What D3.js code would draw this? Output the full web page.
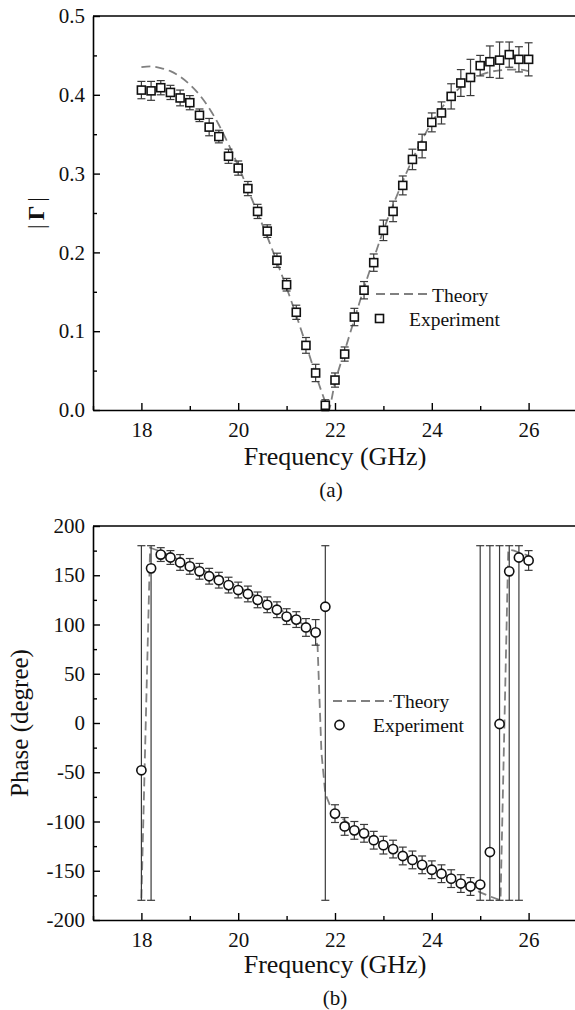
<!DOCTYPE html>
<html>
<head>
<meta charset="utf-8">
<script src="https://cdn.jsdelivr.net/npm/d3@7"></script>
<style>
body { margin: 0; background: #fff; }
</style>
</head>
<body>
<svg id="chart" width="575" height="1010"></svg>
<script>
var freq = [18.0, 18.2, 18.4, 18.6, 18.8, 19.0, 19.2, 19.4, 19.6, 19.8,
            20.0, 20.2, 20.4, 20.6, 20.8, 21.0, 21.2, 21.4, 21.6, 21.8,
            22.0, 22.2, 22.4, 22.6, 22.8, 23.0, 23.2, 23.4, 23.6, 23.8,
            24.0, 24.2, 24.4, 24.6, 24.8, 25.0, 25.2, 25.4, 25.6, 25.8, 26.0];

var gammaExp = [0.406, 0.405, 0.409, 0.403, 0.396, 0.390, 0.374, 0.359, 0.347, 0.322,
                0.307, 0.281, 0.252, 0.227, 0.190, 0.159, 0.124, 0.082, 0.047, 0.006,
                0.038, 0.071, 0.118, 0.152, 0.187, 0.228, 0.252, 0.285, 0.318, 0.335,
                0.365, 0.377, 0.398, 0.415, 0.422, 0.437, 0.442, 0.444, 0.451, 0.445, 0.445];
var gammaErr = [0.011, 0.012, 0.009, 0.009, 0.010, 0.009, 0.008, 0.011, 0.008, 0.009,
                0.009, 0.009, 0.009, 0.008, 0.009, 0.008, 0.009, 0.010, 0.011, 0.007,
                0.009, 0.009, 0.011, 0.011, 0.011, 0.013, 0.013, 0.012, 0.013, 0.015,
                0.012, 0.014, 0.016, 0.017, 0.023, 0.013, 0.020, 0.023, 0.016, 0.016, 0.021];

var theoryFreqA = [18.0, 18.2, 18.4, 18.6, 18.8, 19.0, 19.2, 19.4, 19.6, 19.8,
                   20.0, 20.2, 20.4, 20.6, 20.8, 21.0, 21.2, 21.4, 21.6, 21.8, 21.86,
                   22.0, 22.2, 22.4, 22.6, 22.8, 23.0, 23.2, 23.4, 23.6, 23.8,
                   24.0, 24.2, 24.4, 24.6, 24.8, 25.0, 25.2, 25.4, 25.6, 25.8, 26.0];
var theoryGamma = [0.435, 0.436, 0.434, 0.430, 0.423, 0.413, 0.400, 0.383, 0.362, 0.337,
                   0.310, 0.280, 0.250, 0.220, 0.188, 0.155, 0.120, 0.083, 0.045, 0.010, 0.0,
                   0.035, 0.075, 0.115, 0.155, 0.192, 0.228, 0.260, 0.290, 0.318, 0.343,
                   0.365, 0.383, 0.398, 0.410, 0.419, 0.425, 0.429, 0.431, 0.432, 0.432, 0.430];

var phaseExp = [-48, 157, 171, 168, 163, 159, 154, 149, 145, 140,
                135, 131, 125, 120, 115, 108, 105, 97, 92, 118,
                -92, -105, -109, -112, -119, -124, -128, -135, -139, -144,
                -149, -153, -158, -163, -166, -164, -131, -1, 154, 168, 165];
// null: the error bar covers the whole -180..180 range
var phaseErr = [null, null, 7, 7, 8, 8, 8, 8, 8, 8,
                8, 8, 8, 8, 8, 8, 8, 9, 13, null,
                9, 9, 9, 9, 9, 9, 9, 9, 9, 9,
                9, 9, 9, 9, 9, null, null, null, null, null, 10];

var theoryFreqB = [18.0, 18.18, 18.4, 18.6, 18.8, 19.0, 19.2, 19.4, 19.6, 19.8,
                   20.0, 20.2, 20.4, 20.6, 20.8, 21.0, 21.2, 21.4, 21.6, 21.64,
                   21.72, 21.8, 21.9, 22.0, 22.2, 22.4, 22.6, 22.8, 23.0, 23.2,
                   23.4, 23.6, 23.8, 24.0, 24.2, 24.4, 24.6, 24.8, 25.0, 25.2,
                   25.42, 25.58, 25.7, 25.8, 26.0];
var theoryPhase = [-178, 178, 174, 170, 165, 161, 157, 152, 147, 143,
                   138, 133, 128, 123, 117, 111, 105, 98, 86, 78,
                   -30, -72, -84, -90, -99, -106, -112, -118, -123, -128,
                   -133, -138, -143, -148, -153, -158, -163, -167, -172, -176,
                   -180, 176, 175, 173, 170];

var freqTicks = [18, 20, 22, 24, 26];
var freqMinor = [17, 19, 21, 23, 25, 27];
var gammaTicks = [0, 0.1, 0.2, 0.3, 0.4, 0.5];
var gammaMinor = [0.05, 0.15, 0.25, 0.35, 0.45];
var phaseTicks = [-200, -150, -100, -50, 0, 50, 100, 150, 200];
var phaseMinor = [-175, -125, -75, -25, 25, 75, 125, 175];

var svg = d3.select("#chart");
var serif = "'Liberation Serif', 'DejaVu Serif', serif";
var lineColor = "#808080";
var barColor = "#3a3a3a";

function label(g, x, y, size, txt) {
  return g.append("text").attr("x", x).attr("y", y)
    .style("font-family", serif).style("font-size", size + "px").attr("fill", "#111").text(txt);
}

function drawAxes(g, x, y, yTicks, yMinor, yFormat, top, bottom) {
  g.append("g").attr("transform", "translate(0," + bottom + ")")
    .call(d3.axisBottom(x).tickValues(freqTicks).tickSize(-7).tickSizeOuter(0).tickPadding(12)
      .tickFormat(function(d) { return String(d); }));
  g.append("g").attr("transform", "translate(0," + bottom + ")")
    .call(d3.axisBottom(x).tickValues(freqMinor).tickSize(-4).tickSizeOuter(0).tickFormat(""))
    .select(".domain").remove();
  g.append("g").attr("transform", "translate(" + x.range()[0] + ",0)")
    .call(d3.axisLeft(y).tickValues(yTicks).tickSize(-7).tickSizeOuter(0).tickPadding(8).tickFormat(yFormat));
  g.append("g").attr("transform", "translate(" + x.range()[0] + ",0)")
    .call(d3.axisLeft(y).tickValues(yMinor).tickSize(-4).tickSizeOuter(0).tickFormat(""))
    .select(".domain").remove();
  g.append("line")
    .attr("x1", x.range()[0]).attr("x2", x.range()[1])
    .attr("y1", top).attr("y2", top)
    .attr("stroke", "#000").attr("stroke-width", 1.6);
  g.selectAll(".domain").attr("stroke-width", 1.6);
  g.selectAll(".tick line").attr("stroke-width", 1.4);
  g.selectAll(".tick text").style("font-family", serif).style("font-size", "21px").attr("fill", "#111");
}

function errorBars(g, x, y, f, lo, hi) {
  var bars = g.append("g").attr("stroke", barColor).attr("stroke-width", 1.2);
  f.forEach(function(d, i) {
    var cx = x(d);
    bars.append("line").attr("x1", cx).attr("x2", cx).attr("y1", y(lo[i])).attr("y2", y(hi[i]));
    bars.append("line").attr("x1", cx - 4).attr("x2", cx + 4).attr("y1", y(lo[i])).attr("y2", y(lo[i]));
    bars.append("line").attr("x1", cx - 4).attr("x2", cx + 4).attr("y1", y(hi[i])).attr("y2", y(hi[i]));
  });
}

// (a) magnitude
var xA = d3.scaleLinear().domain([17, 27]).range([93, 577]);
var yA = d3.scaleLinear().domain([0, 0.5]).range([410, 16]);
var gA = svg.append("g");

gA.append("path")
  .datum(theoryFreqA.map(function(f, i) { return [f, theoryGamma[i]]; }))
  .attr("fill", "none").attr("stroke", lineColor).attr("stroke-width", 1.8)
  .attr("stroke-dasharray", "9,5")
  .attr("d", d3.line().x(function(d) { return xA(d[0]); }).y(function(d) { return yA(d[1]); }).curve(d3.curveMonotoneX));

errorBars(gA, xA, yA, freq,
  gammaExp.map(function(v, i) { return v - gammaErr[i]; }),
  gammaExp.map(function(v, i) { return v + gammaErr[i]; }));

gA.selectAll("rect.pt").data(freq).enter().append("rect")
  .attr("class", "pt")
  .attr("x", function(d) { return xA(d) - 4; })
  .attr("y", function(d, i) { return yA(gammaExp[i]) - 4; })
  .attr("width", 8).attr("height", 8)
  .attr("fill", "#fff").attr("stroke", "#111").attr("stroke-width", 1.6);

drawAxes(gA, xA, yA, gammaTicks, gammaMinor, d3.format(".1f"), 16, 410);

label(gA, 335, 465, 26, "Frequency (GHz)").attr("text-anchor", "middle");
label(gA, 331, 497, 21, "(a)").attr("text-anchor", "middle");
var gl = label(gA, 0, 0, 23, null).attr("transform", "translate(44,213) rotate(-90)")
  .attr("text-anchor", "middle");
gl.append("tspan").text("|");
gl.append("tspan").attr("dx", 4).style("font-weight", "bold").text("Γ");
gl.append("tspan").attr("dx", 4).text("|");

gA.append("line").attr("x1", 376).attr("x2", 430).attr("y1", 294).attr("y2", 294)
  .attr("stroke", lineColor).attr("stroke-width", 1.8).attr("stroke-dasharray", "9,5");
label(gA, 432, 301.5, 19.5, "Theory");
gA.append("rect").attr("x", 375.5).attr("y", 314.5).attr("width", 8).attr("height", 8)
  .attr("fill", "#fff").attr("stroke", "#111").attr("stroke-width", 1.6);
label(gA, 409, 326, 19.5, "Experiment");

// (b) phase
var xB = d3.scaleLinear().domain([17, 27]).range([93, 577]);
var yB = d3.scaleLinear().domain([-200, 200]).range([920, 526]);
var gB = svg.append("g");

gB.append("path")
  .datum(theoryFreqB.map(function(f, i) { return [f, theoryPhase[i]]; }))
  .attr("fill", "none").attr("stroke", lineColor).attr("stroke-width", 1.8)
  .attr("stroke-dasharray", "9,5")
  .attr("d", d3.line().x(function(d) { return xB(d[0]); }).y(function(d) { return yB(d[1]); }));

errorBars(gB, xB, yB, freq,
  phaseExp.map(function(v, i) { return phaseErr[i] === null ? -180 : v - phaseErr[i]; }),
  phaseExp.map(function(v, i) { return phaseErr[i] === null ? 180 : v + phaseErr[i]; }));

gB.selectAll("circle.pt").data(freq).enter().append("circle")
  .attr("class", "pt")
  .attr("cx", function(d) { return xB(d); })
  .attr("cy", function(d, i) { return yB(phaseExp[i]); })
  .attr("r", 4.6)
  .attr("fill", "#fff").attr("stroke", "#111").attr("stroke-width", 1.6);

drawAxes(gB, xB, yB, phaseTicks, phaseMinor, function(d) { return String(d); }, 526, 920);

label(gB, 335, 973, 26, "Frequency (GHz)").attr("text-anchor", "middle");
label(gB, 335, 1005, 21, "(b)").attr("text-anchor", "middle");
label(gB, 0, 0, 25, "Phase (degree)").attr("transform", "translate(28,723) rotate(-90)")
  .attr("text-anchor", "middle");

gB.append("line").attr("x1", 333).attr("x2", 392).attr("y1", 701).attr("y2", 701)
  .attr("stroke", lineColor).attr("stroke-width", 1.8).attr("stroke-dasharray", "9,5");
label(gB, 393, 708, 19.5, "Theory");
gB.append("circle").attr("cx", 339.5).attr("cy", 725).attr("r", 4.6)
  .attr("fill", "#fff").attr("stroke", "#111").attr("stroke-width", 1.6);
label(gB, 373, 732, 19.5, "Experiment");
</script>
</body>
</html>
